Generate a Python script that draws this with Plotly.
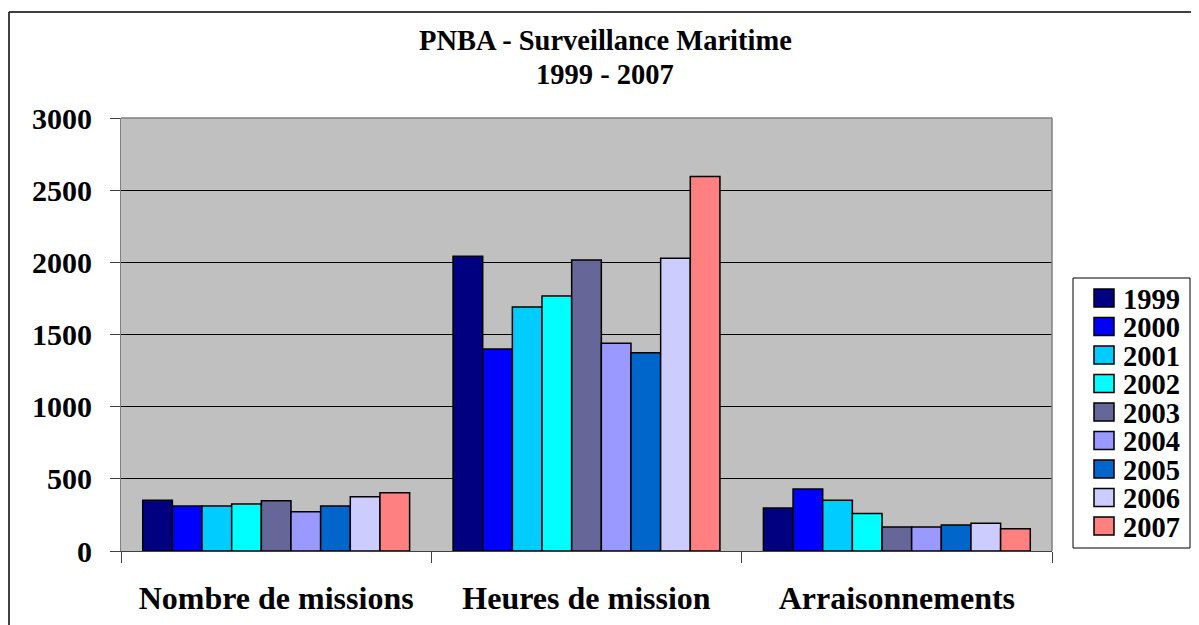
import plotly.graph_objects as go

categories = ["Nombre de missions", "Heures de mission", "Arraisonnements"]
years = ["1999", "2000", "2001", "2002", "2003", "2004", "2005", "2006", "2007"]
v1999 = [351, 2042, 298]
v2000 = [312, 1400, 430]
v2001 = [312, 1691, 351]
v2002 = [326, 1767, 259]
v2003 = [349, 2017, 166]
v2004 = [272, 1439, 166]
v2005 = [312, 1374, 180]
v2006 = [376, 2028, 192]
v2007 = [404, 2594, 155]
series = [v1999, v2000, v2001, v2002, v2003, v2004, v2005, v2006, v2007]
colors = ["#000080", "#0000FF", "#00CCFF", "#00FFFF", "#666699",
          "#9999FF", "#0066CC", "#CCCCFF", "#FF8080"]

FONT = "Liberation Serif"

# page has an 8px body margin; figure coordinates are page coords minus 8
W, H = 1191, 617
L, T = 113, 110
PR, PB = 1044, 543  # plot right / bottom in figure px
PW, PH = PR - L, PB - T


def px(x):  # figure px -> paper x
    return (x - L) / PW


def py(y):  # figure px -> paper y
    return (PB - y) / PH


fig = go.Figure()
for y, vals, c in zip(years, series, colors):
    fig.add_trace(go.Bar(x=categories, y=vals, name=y, showlegend=False,
                         marker=dict(color=c, line=dict(color="black", width=1.5))))

shapes = [
    dict(type="line", xref="paper", yref="paper", x0=1, x1=1, y0=0, y1=1,
         line=dict(color="#808080", width=1.5)),
    dict(type="line", xref="paper", yref="paper", x0=0, x1=1, y0=1, y1=1,
         line=dict(color="#808080", width=1.5)),
    dict(type="line", xref="paper", yref="paper", x0=px(1), x1=px(1),
         y0=py(700), y1=py(4), line=dict(color="black", width=1.5)),
    dict(type="line", xref="paper", yref="paper", x0=px(1), x1=px(1190),
         y0=py(4), y1=py(4), line=dict(color="black", width=1.5)),
    # legend box
    dict(type="rect", xref="paper", yref="paper", x0=px(1065), x1=px(1182),
         y0=py(540), y1=py(270), fillcolor="white", line=dict(color="black", width=1)),
]
annotations = [
    dict(text="<b>PNBA - Surveillance Maritime</b>", xref="paper", yref="paper",
         x=px(597), y=py(32), xanchor="center", yanchor="middle", showarrow=False,
         font=dict(family=FONT, size=28.5, color="black")),
    dict(text="<b>1999 - 2007</b>", xref="paper", yref="paper",
         x=px(597), y=py(67), xanchor="center", yanchor="middle", showarrow=False,
         font=dict(family=FONT, size=28.5, color="black")),
]
for i, (yr, c) in enumerate(zip(years, colors)):
    cy = 290 + i * 28.5
    shapes.append(dict(type="rect", xref="paper", yref="paper",
                       x0=px(1086), x1=px(1106), y0=py(cy + 9), y1=py(cy - 9),
                       fillcolor=c, line=dict(color="black", width=1.5)))
    annotations.append(dict(text="<b>" + yr + "</b>", xref="paper", yref="paper",
                            x=px(1113), y=py(cy + 1), xanchor="left", yanchor="middle",
                            showarrow=False,
                            font=dict(family=FONT, size=28.5, color="black")))

fig.update_layout(
    width=W, height=H,
    margin=dict(l=L, r=W - PR, t=T, b=H - PB, autoexpand=False),
    paper_bgcolor="white", plot_bgcolor="#C0C0C0",
    barmode="group", bargap=0.14, bargroupgap=0,
    font=dict(family=FONT, color="black"),
    showlegend=False,
    xaxis=dict(type="category", showgrid=False, ticks="outside", tickson="boundaries",
               ticklen=11, tickcolor="#404040", showline=True, linecolor="#404040",
               mirror=False, ticklabelstandoff=19, automargin=False,
               tickfont=dict(family=FONT, size=32, color="black", weight="bold")),
    yaxis=dict(range=[0, 3000], dtick=500, showgrid=True, gridcolor="black", gridwidth=1,
               ticks="outside", ticklen=10, tickcolor="#404040", showline=True,
               linecolor="#808080", zeroline=False, ticklabelstandoff=12, automargin=False,
               tickfont=dict(family=FONT, size=30, color="black", weight="bold")),
    shapes=shapes,
    annotations=annotations,
)

fig.write_html("out.html")
